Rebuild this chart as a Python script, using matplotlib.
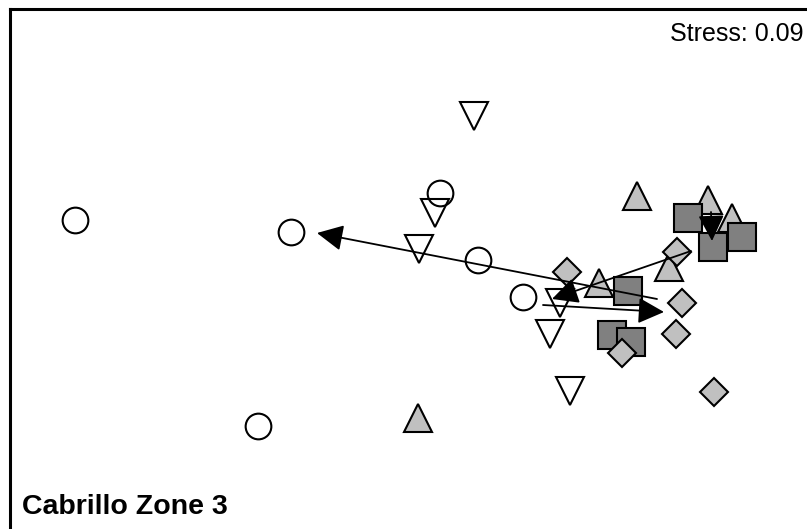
import numpy as np
import matplotlib
matplotlib.use('Agg')
import matplotlib.pyplot as plt

plt.rcParams['font.family'] = ['Liberation Sans', 'DejaVu Sans']

# MDS ordination positions (x right, y down)
circ_x = [75, 291, 440, 478, 523, 258]
circ_y = [220, 232, 193, 260, 297, 426]

tri_dn_x = [474, 435, 419, 560, 550, 570]
tri_dn_y = [116, 213, 249, 303, 334, 391]

tri_up_x = [637, 708, 732, 669, 599, 418]
tri_up_y = [196, 200, 218, 267, 283, 418]

sq_x = [688, 713, 742, 628, 612, 631]
sq_y = [218, 247, 237, 291, 335, 342]

dia_x = [567, 677, 682, 676, 622, 714]
dia_y = [272, 252, 303, 334, 353, 392]

# arrows: start -> end
arr_x0 = [657, 543, 691, 711]
arr_y0 = [299, 305, 251, 212]
arr_x1 = [317, 664, 552, 712]
arr_y1 = [233, 312, 299, 241]

fig = plt.figure(figsize=(8.07, 5.29), dpi=100)
ax = fig.add_axes([10/807, 0, 797/807, 520/529])
ax.set_xlim(10, 807)
ax.set_ylim(529, 9)

lw = 1.5
ax.plot(tri_dn_x, tri_dn_y, 'v', ms=20, mfc='none', mec='black', mew=lw, zorder=2)
ax.plot(circ_x, circ_y, 'o', ms=18.5, mfc='none', mec='black', mew=lw, zorder=2)
ax.plot(tri_up_x, tri_up_y, '^', ms=20, mfc='#c0c0c0', mec='black', mew=lw, zorder=3)
ax.plot(sq_x, sq_y, 's', ms=19.5, mfc='#808080', mec='black', mew=lw, zorder=4)
ax.plot(dia_x, dia_y, 'D', ms=14.3, mfc='#c0c0c0', mec='black', mew=lw, zorder=5)

for x0, y0, x1, y1 in zip(arr_x0, arr_y0, arr_x1, arr_y1):
    ax.annotate('', xy=(x1, y1), xytext=(x0, y0), zorder=6,
                arrowprops=dict(arrowstyle='-|>,head_length=1.0,head_width=0.5',
                                mutation_scale=16, color='black', lw=1.3,
                                shrinkA=0, shrinkB=0))

ax.text(0.996, 0.975, 'Stress: 0.09', transform=ax.transAxes, ha='right', va='top',
        fontsize=18)
ax.text(0.015, 0.018, 'Cabrillo Zone 3', transform=ax.transAxes, ha='left', va='bottom',
        fontsize=20.5, fontweight='bold')

ax.set_xticks([])
ax.set_yticks([])
for s in ['right', 'bottom']:
    ax.spines[s].set_visible(False)
for s in ['left', 'top']:
    ax.spines[s].set_linewidth(2.2)

fig.savefig('out.png', dpi=100)
